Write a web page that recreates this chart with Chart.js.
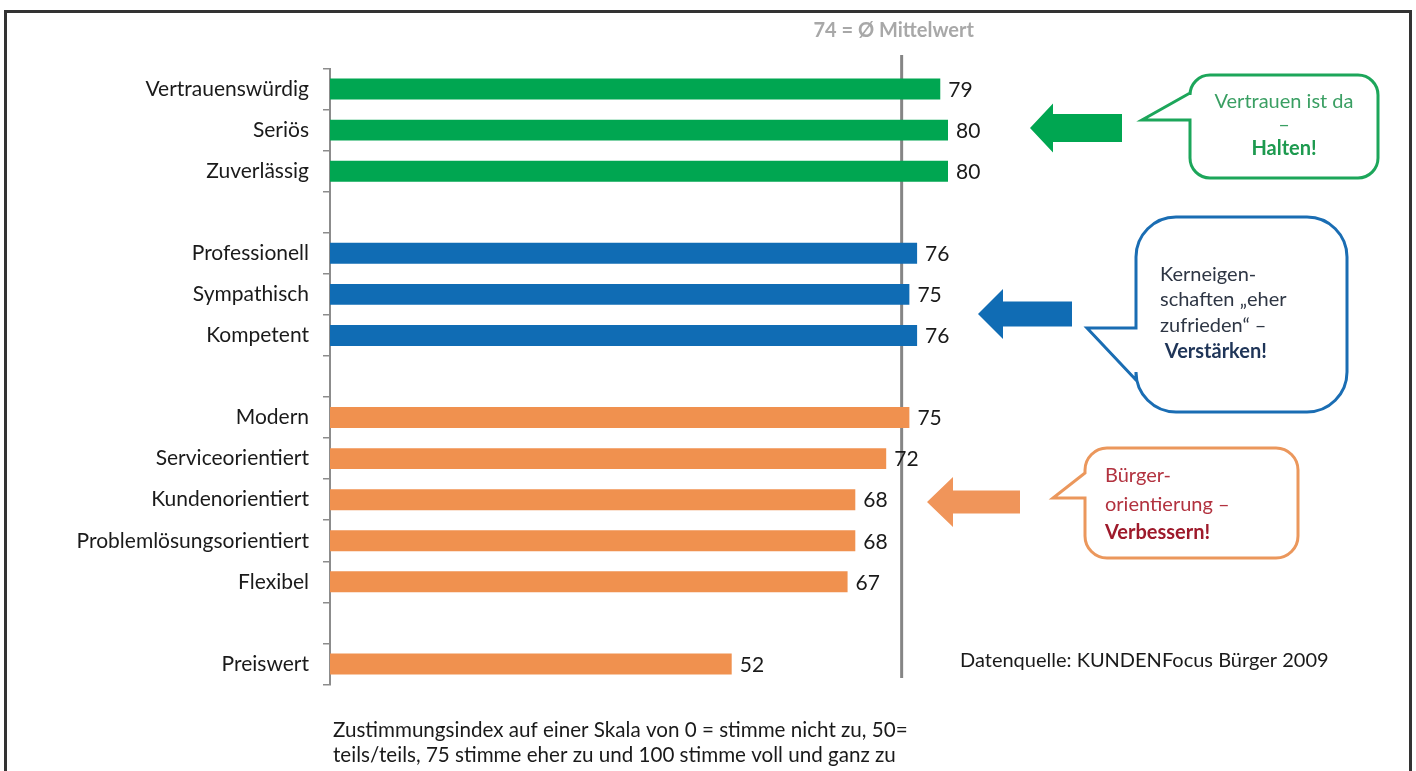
<!DOCTYPE html>
<html>
<head>
<meta charset="utf-8">
<script src="https://cdn.jsdelivr.net/npm/chart.js@4"></script>
<style>
  body { margin: 0; background: #fff; }
  #wrap { position: relative; width: 1416px; height: 771px; }
  #frame { position: absolute; left: 4px; top: 10px; width: 1402px; height: 800px; border: 3px solid #333; pointer-events: none; }
</style>
</head>
<body>
<div id="wrap">
  <canvas id="chart"></canvas>
  <div id="frame"></div>
</div>
<script>
const categories = ["Vertrauenswürdig", "Seriös", "Zuverlässig", "", "Professionell", "Sympathisch", "Kompetent", "",
  "Modern", "Serviceorientiert", "Kundenorientiert", "Problemlösungsorientiert", "Flexibel", "", "Preiswert"];
const values = [79, 80, 80, null, 76, 75, 76, null, 75, 72, 68, 68, 67, null, 52];
const groups = ["g", "g", "g", "", "b", "b", "b", "", "o", "o", "o", "o", "o", "", "o"];
const meanValue = 74;
const meanLabel = "74 = Ø Mittelwert";
const sourceText = "Datenquelle: KUNDENFocus Bürger 2009";
const footnote = ["Zustimmungsindex auf einer Skala von 0 = stimme nicht zu, 50=",
  "teils/teils, 75 stimme eher zu und 100 stimme voll und ganz zu"];

const palette = { g: "#00a651", b: "#106cb4", o: "#f0914f", "": "#fff" };

// Sprechblasen rechts neben dem Diagramm
const callouts = [
  { color: "#1ca65a", box: [1190, 75, 188, 103, 20], tip: [1142, 120], tail: [93, 120],
    arrow: { color: "#00a651", tip: [1030, 128], base: 1053, head: 49, end: 1122, shaft: 28 },
    align: "center", x: 1284,
    lines: [["Vertrauen ist da", 102, "#3a9f63", false], ["–", 125, "#3a9f63", false], ["Halten!", 149, "#1d9a4f", true]] },
  { color: "#1a6db3", box: [1136, 217, 211, 195, 40], tip: [1087, 328], tail: [328, 380],
    arrow: { color: "#106cb4", tip: [978, 314], base: 1003, head: 50, end: 1072, shaft: 25 },
    align: "left", x: 1160,
    lines: [["Kerneigen-", 275, "#2e3644", false], ["schaften „eher", 300, "#2e3644", false],
      ["zufrieden“ –", 326, "#2e3644", false], [" Verstärken!", 352, "#1f3558", true]] },
  { color: "#eb975c", box: [1085, 448, 213, 110, 22], tip: [1053, 498], tail: [473, 498],
    arrow: { color: "#f0955a", tip: [927, 502], base: 953, head: 50, end: 1020, shaft: 23 },
    align: "left", x: 1105,
    lines: [["Bürger-", 476, "#b2323f", false], ["orientierung –", 505, "#b2323f", false], ["Verbessern!", 533, "#9e1a2b", true]] }
];

function bubble(ctx, c) {
  const [x, y, w, h, r] = c.box;
  ctx.beginPath();
  ctx.moveTo(x + r, y);
  ctx.arcTo(x + w, y, x + w, y + h, r);
  ctx.arcTo(x + w, y + h, x, y + h, r);
  ctx.arcTo(x, y + h, x, y, r);
  ctx.lineTo(x, c.tail[1]);
  ctx.lineTo(c.tip[0], c.tip[1]);
  ctx.lineTo(x, c.tail[0]);
  ctx.arcTo(x, y, x + w, y, r);
  ctx.closePath();
  ctx.fillStyle = "#fff";
  ctx.fill();
  ctx.lineWidth = 3;
  ctx.strokeStyle = c.color;
  ctx.stroke();
}

function arrow(ctx, a) {
  const [tx, ty] = a.tip;
  ctx.beginPath();
  ctx.moveTo(tx, ty);
  ctx.lineTo(a.base, ty - a.head / 2);
  ctx.lineTo(a.base, ty - a.shaft / 2);
  ctx.lineTo(a.end, ty - a.shaft / 2);
  ctx.lineTo(a.end, ty + a.shaft / 2);
  ctx.lineTo(a.base, ty + a.shaft / 2);
  ctx.lineTo(a.base, ty + a.head / 2);
  ctx.closePath();
  ctx.fillStyle = a.color;
  ctx.fill();
}

const extras = {
  id: "extras",
  beforeDatasetsDraw(chart) {
    const ctx = chart.ctx;
    const mx = chart.scales.x.getPixelForValue(meanValue);
    ctx.save();
    ctx.strokeStyle = "#858585";
    ctx.lineWidth = 3;
    ctx.beginPath();
    ctx.moveTo(mx, 55);
    ctx.lineTo(mx, 678);
    ctx.stroke();
    ctx.font = "bold 20px Lato";
    ctx.fillStyle = "#a8a8a8";
    ctx.textAlign = "center";
    ctx.textBaseline = "middle";
    ctx.fillText(meanLabel, mx - 8, 31);
    ctx.restore();
  },
  afterDatasetsDraw(chart) {
    const ctx = chart.ctx;
    ctx.save();
    ctx.font = "21px Lato";
    ctx.fillStyle = "#1a1a1a";
    ctx.textBaseline = "middle";
    chart.getDatasetMeta(0).data.forEach((bar, i) => {
      if (values[i] == null) return;
      ctx.fillText(values[i], bar.x + 8, bar.y + 1);
    });
    callouts.forEach(c => {
      arrow(ctx, c.arrow);
      bubble(ctx, c);
      ctx.textAlign = c.align;
      c.lines.forEach(l => {
        ctx.font = (l[3] ? "bold " : "") + "20px Lato";
        ctx.fillStyle = l[2];
        ctx.fillText(l[0], c.x, l[1]);
      });
    });
    ctx.textAlign = "left";
    ctx.font = "20px Lato";
    ctx.fillStyle = "#1a1a1a";
    ctx.fillText(sourceText, 960, 661);
    ctx.font = "20.6px Lato";
    ctx.fillText(footnote[0], 333, 730);
    ctx.fillText(footnote[1], 333, 755);
    ctx.restore();
  }
};

new Chart(document.getElementById("chart"), {
  type: "bar",
  data: {
    labels: categories,
    datasets: [{
      data: values,
      backgroundColor: groups.map(g => palette[g]),
      barPercentage: 0.51,
      categoryPercentage: 1
    }]
  },
  options: {
    indexAxis: "y",
    responsive: true,
    maintainAspectRatio: false,
    animation: false,
    layout: { padding: { top: 68.5, bottom: 86.5, left: 0, right: 313.5 } },
    plugins: { legend: { display: false }, tooltip: { enabled: false } },
    scales: {
      x: { display: false, min: 0, max: 100 },
      y: {
        offset: true,
        afterFit(scale) { scale.width = 330; },
        grid: { offset: true, drawOnChartArea: false, drawTicks: true, tickLength: 7, color: "#8c8c8c", lineWidth: 1.5 },
        border: { display: true, color: "#8c8c8c", width: 2 },
        ticks: { autoSkip: false, padding: 14, color: "#1a1a1a", font: { family: "Lato", size: 21 } }
      }
    }
  },
  plugins: [extras]
});
</script>
</body>
</html>
